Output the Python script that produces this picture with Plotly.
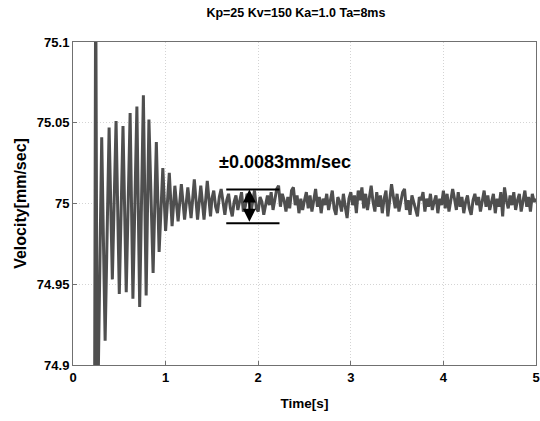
import plotly.graph_objects as go

# ---------------- data ----------------
# transient part (time [s], velocity [mm/sec])
t_transient = [0.23, 0.245, 0.262, 0.31, 0.347, 0.39, 0.425, 0.465, 0.50, 0.54,
               0.575, 0.617, 0.647, 0.69, 0.72, 0.76, 0.79, 0.82, 0.865, 0.90,
               0.93, 0.97, 1.00, 1.04, 1.07, 1.10, 1.135, 1.17, 1.205, 1.24,
               1.275, 1.31, 1.345, 1.38, 1.415, 1.45, 1.485]
v_transient = [74.80, 75.15, 74.85, 75.041, 74.915, 75.047, 74.953, 75.051, 74.944, 75.048,
               74.945, 75.056, 74.941, 75.060, 74.936, 75.067, 74.943, 75.052, 74.957, 75.038,
               74.970, 75.022, 74.983, 75.019, 74.986, 75.011, 74.989, 75.012, 74.990, 75.010,
               74.991, 75.015, 74.990, 75.011, 74.990, 75.014, 74.992]

# steady-state part
t_steady = [1.50, 1.52, 1.54, 1.56, 1.58, 1.60, 1.62, 1.64, 1.66, 1.68,
            1.70, 1.72, 1.74, 1.76, 1.78, 1.80, 1.82, 1.84, 1.86, 1.88,
            1.90, 1.92, 1.94, 1.96, 1.98, 2.00, 2.02, 2.04, 2.06, 2.08,
            2.10, 2.12, 2.14, 2.16, 2.18, 2.20, 2.22, 2.24, 2.26, 2.28,
            2.30, 2.32, 2.34, 2.36, 2.38, 2.40, 2.42, 2.44, 2.46, 2.48,
            2.50, 2.52, 2.54, 2.56, 2.58, 2.60, 2.62, 2.64, 2.66, 2.68,
            2.70, 2.72, 2.74, 2.76, 2.78, 2.80, 2.82, 2.84, 2.86, 2.88,
            2.90, 2.92, 2.94, 2.96, 2.98, 3.00, 3.02, 3.04, 3.06, 3.08,
            3.10, 3.12, 3.14, 3.16, 3.18, 3.20, 3.22, 3.24, 3.26, 3.28,
            3.30, 3.32, 3.34, 3.36, 3.38, 3.40, 3.42, 3.44, 3.46, 3.48,
            3.50, 3.52, 3.54, 3.56, 3.58, 3.60, 3.62, 3.64, 3.66, 3.68,
            3.70, 3.72, 3.74, 3.76, 3.78, 3.80, 3.82, 3.84, 3.86, 3.88,
            3.90, 3.92, 3.94, 3.96, 3.98, 4.00, 4.02, 4.04, 4.06, 4.08,
            4.10, 4.12, 4.14, 4.16, 4.18, 4.20, 4.22, 4.24, 4.26, 4.28,
            4.30, 4.32, 4.34, 4.36, 4.38, 4.40, 4.42, 4.44, 4.46, 4.48,
            4.50, 4.52, 4.54, 4.56, 4.58, 4.60, 4.62, 4.64, 4.66, 4.68,
            4.70, 4.72, 4.74, 4.76, 4.78, 4.80, 4.82, 4.84, 4.86, 4.88,
            4.90, 4.92, 4.94, 4.96, 4.98, 5.00]
v_steady = [75.003, 75.008, 74.998, 74.994, 75.004, 75.009, 74.999, 74.993, 75.002, 75.006,
            74.997, 74.992, 75.001, 75.005, 74.996, 75.002, 75.007, 74.995, 74.998, 75.006,
            75.003, 74.994, 75.000, 75.008, 74.997, 74.995, 75.004, 75.001, 74.993, 74.998,
            75.005, 74.999, 75.007, 74.996, 75.003, 75.009, 75.011, 74.998, 75.006, 75.002,
            74.995, 75.004, 74.997, 75.008, 75.010, 74.999, 75.005, 74.994, 75.003, 74.996,
            75.002, 75.007, 74.997, 75.005, 74.995, 75.001, 75.009, 74.998, 75.004, 74.994,
            75.003, 74.999, 75.006, 74.996, 75.002, 75.008, 74.997, 74.993, 75.004, 75.001,
            74.995, 75.006, 74.998, 74.991, 75.003, 75.007, 74.999, 75.005, 74.994, 75.008,
            75.002, 75.010, 74.997, 75.006, 74.996, 75.004, 75.011, 75.001, 74.995, 75.007,
            74.998, 75.005, 74.994, 75.003, 75.008, 74.992, 75.002, 75.012, 75.004, 74.997,
            75.006, 74.995, 75.001, 75.007, 75.009, 74.996, 75.002, 74.993, 75.005, 75.000,
            74.997, 74.992, 75.004, 75.002, 75.007, 74.995, 75.003, 74.998, 75.006, 74.996,
            75.001, 75.005, 74.994, 75.003, 74.999, 75.008, 74.997, 75.006, 74.995, 75.002,
            75.009, 75.003, 74.996, 75.007, 74.998, 75.004, 74.994, 75.001, 75.005, 74.997,
            74.993, 75.002, 75.006, 74.999, 75.004, 74.995, 75.003, 75.008, 74.998, 75.005,
            74.996, 75.001, 75.006, 74.994, 75.003, 74.998, 75.007, 74.992, 75.010, 75.002,
            74.997, 75.005, 74.999, 75.007, 74.996, 75.002, 75.006, 74.995, 75.003, 75.008,
            74.998, 75.004, 74.995, 75.006, 75.001, 75.003]

# band annotation (reading of the +/- band)
band_t = [1.655, 2.23]
band_upper = 75.0087
band_lower = 74.9878
arrow_t = 1.905
band_label = "\u00b10.0083mm/sec"
label_t = 2.29
label_v = 75.0254

x_ticks = [0, 1, 2, 3, 4, 5]
y_ticks = [74.9, 74.95, 75.0, 75.05, 75.1]
y_ticklabels = ["74.9", "74.95", "75", "75.05", "75.1"]

title_text = "Kp=25 Kv=150 Ka=1.0 Ta=8ms"

# ---------------- figure ----------------
t_all = t_transient + t_steady
v_all = v_transient + v_steady

FONT = "Liberation Sans, Arial, sans-serif"
fig = go.Figure()
fig.add_trace(go.Scatter(x=t_all, y=v_all, mode="lines",
                         line=dict(color="#4f4f4f", width=3),
                         showlegend=False, hoverinfo="skip"))

for yv in (band_upper, band_lower):
    fig.add_shape(type="line", xref="x", yref="y",
                  x0=band_t[0], x1=band_t[1], y0=yv, y1=yv,
                  line=dict(color="black", width=2))

fig.add_annotation(x=arrow_t, y=band_upper, ax=arrow_t, ay=band_lower,
                   xref="x", yref="y", axref="x", ayref="y",
                   text="", showarrow=True, arrowhead=2, arrowside="end+start",
                   arrowsize=1.3, arrowwidth=2, arrowcolor="black",
                   startarrowhead=2, startarrowsize=1.3)

fig.add_annotation(x=label_t, y=label_v, xref="x", yref="y",
                   text="<b>" + band_label + "</b>", showarrow=False,
                   font=dict(family=FONT, size=18, color="black"))

axis_common = dict(showline=True, mirror=True, linecolor="#707070", linewidth=1,
                   showgrid=True, gridcolor="#d4d4d4", griddash="1px,2px", gridwidth=1,
                   ticks="inside", ticklen=4, tickcolor="#707070",
                   zeroline=False, automargin=False,
                   tickfont=dict(family=FONT, size=13, color="black", weight="bold"))

fig.update_xaxes(range=[0, 5], tickvals=x_ticks,
                 title=dict(text="<b>Time[s]</b>", font=dict(family=FONT, size=13.5, color="black"),
                            standoff=14),
                 **axis_common)
fig.update_yaxes(range=[74.9, 75.1], tickvals=y_ticks, ticktext=y_ticklabels,
                 title=dict(text="<b>Velocity[mm/sec]</b>", font=dict(family=FONT, size=16, color="black"),
                            standoff=6),
                 **axis_common)

fig.update_layout(
    width=540, height=421,
    margin=dict(l=73, r=4, t=42, b=56),
    paper_bgcolor="white", plot_bgcolor="white",
    title=dict(text="<b>" + title_text + "</b>", x=0.548, xanchor="center",
               y=0.97, yanchor="middle",
               font=dict(family=FONT, size=12.5, color="black")),
)

fig.write_html("out.html")
